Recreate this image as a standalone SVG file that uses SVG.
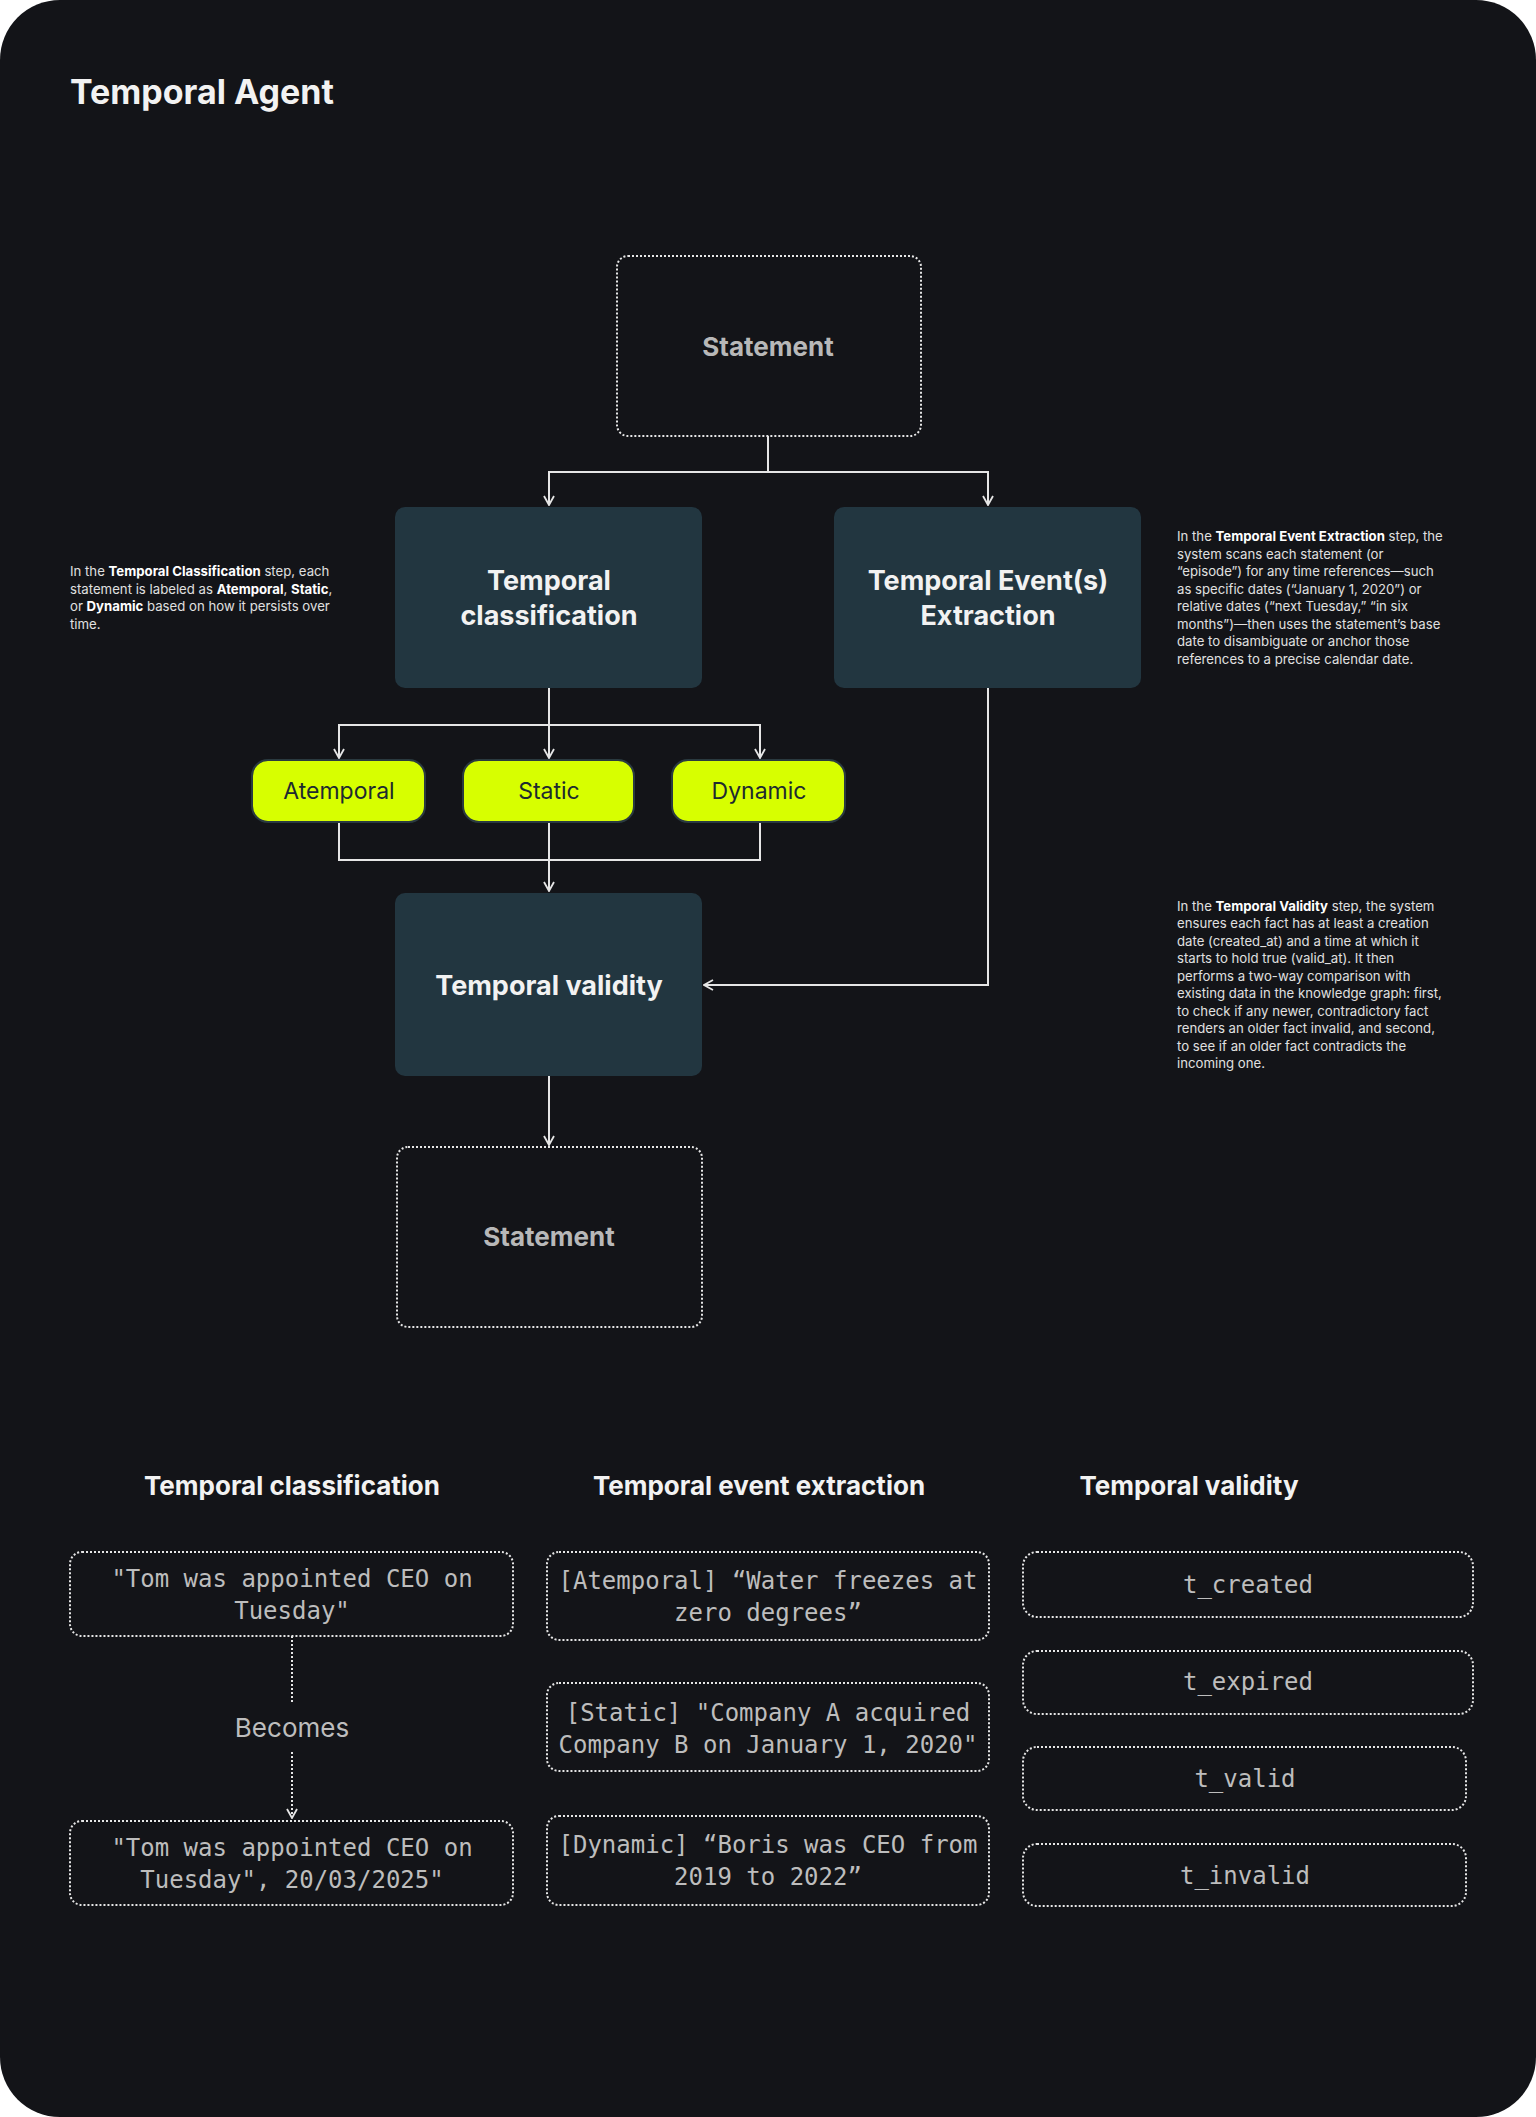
<svg xmlns="http://www.w3.org/2000/svg" width="1536" height="2117" viewBox="0 0 1536 2117">
<defs>
<marker id="ah" viewBox="0 0 12 12" refX="11" refY="6" markerWidth="12" markerHeight="12" markerUnits="userSpaceOnUse" orient="auto"><path d="M2,1 L11,6 L2,11" fill="none" stroke="#e6e6e6" stroke-width="1.8"/></marker>
<style>
.h{font-family:Inter,"Liberation Sans",sans-serif;font-weight:700;fill:#f2f2f2}
.st{font-family:Inter,"Liberation Sans",sans-serif;font-weight:700;fill:#b8b8b8;font-size:26px}
.dk{fill:#223640}
.pill{fill:#d7ff00;stroke:#2a3a40;stroke-width:2}
.pt{font-family:Inter,"Liberation Sans",sans-serif;font-size:23px;fill:#1d2a30}
.dot{fill:none;stroke:#e6e6e6;stroke-width:2;stroke-dasharray:2 2}
.ln{fill:none;stroke:#e6e6e6;stroke-width:2}
.note{font-family:Inter,"Liberation Sans",sans-serif;font-size:13.2px;fill:#e0e0e0}
.note tspan.b{font-weight:700;fill:#fff}
.m{font-family:"DejaVu Sans Mono","Liberation Mono",monospace;font-size:24px;fill:#bdbdbd}
</style>
</defs>
<rect width="1536" height="2117" fill="#ffffff"/>
<rect width="1536" height="2117" rx="60" fill="#131418"/>
<text class="h" x="70" y="104" font-size="34">Temporal Agent</text>

<g id="connectors">
<path class="ln" d="M768,436 V472 H549 V505" marker-end="url(#ah)"/>
<path class="ln" d="M768,472 H988 V505" marker-end="url(#ah)"/>
<path class="ln" d="M549,688 V758" marker-end="url(#ah)"/>
<path class="ln" d="M549,725 H339 V758" marker-end="url(#ah)"/>
<path class="ln" d="M549,725 H760 V758" marker-end="url(#ah)"/>
<path class="ln" d="M339,822 V860 H760 V822"/>
<path class="ln" d="M549,822 V891" marker-end="url(#ah)"/>
<path class="ln" d="M988,688 V985 H704" marker-end="url(#ah)"/>
<path class="ln" d="M549,1076 V1145" marker-end="url(#ah)"/>
<path class="dot" d="M292,1636 V1704"/>
<path class="dot" d="M292,1752 V1818" marker-end="url(#ah)"/>
</g>

<g id="statement-top"><rect class="dot" x="617" y="256" width="304" height="180" rx="11"/><text class="st" x="768" y="356" text-anchor="middle">Statement</text></g>
<g id="classification"><rect class="dk" x="395" y="507" width="307" height="181" rx="10"/><text class="h" font-size="27" text-anchor="middle"><tspan x="549" y="590">Temporal</tspan><tspan x="549" y="625">classification</tspan></text></g>
<g id="extraction"><rect class="dk" x="834" y="507" width="307" height="181" rx="10"/><text class="h" font-size="27" text-anchor="middle"><tspan x="988" y="590">Temporal Event(s)</tspan><tspan x="988" y="625">Extraction</tspan></text></g>
<g id="atemporal"><rect class="pill" x="252" y="760" width="173" height="62" rx="16"/><text class="pt" x="339" y="799" text-anchor="middle">Atemporal</text></g>
<g id="static"><rect class="pill" x="463" y="760" width="171" height="62" rx="16"/><text class="pt" x="549" y="799" text-anchor="middle">Static</text></g>
<g id="dynamic"><rect class="pill" x="672" y="760" width="173" height="62" rx="16"/><text class="pt" x="759" y="799" text-anchor="middle">Dynamic</text></g>
<g id="validity"><rect class="dk" x="395" y="893" width="307" height="183" rx="10"/><text class="h" font-size="27" x="549" y="995" text-anchor="middle">Temporal validity</text></g>
<g id="statement-bottom"><rect class="dot" x="397" y="1147" width="305" height="180" rx="11"/><text class="st" x="549" y="1246" text-anchor="middle">Statement</text></g>

<g id="note-classification"><text class="note">
<tspan x="70" y="576">In the <tspan class="b">Temporal Classification</tspan> step, each</tspan>
<tspan x="70" y="594">statement is labeled as <tspan class="b">Atemporal</tspan>, <tspan class="b">Static</tspan>,</tspan>
<tspan x="70" y="611">or <tspan class="b">Dynamic</tspan> based on how it persists over</tspan>
<tspan x="70" y="629">time.</tspan></text></g>
<g id="note-extraction"><text class="note">
<tspan x="1177" y="541">In the <tspan class="b">Temporal Event Extraction</tspan> step, the</tspan>
<tspan x="1177" y="559">system scans each statement (or</tspan>
<tspan x="1177" y="576">“episode”) for any time references—such</tspan>
<tspan x="1177" y="594">as specific dates (“January 1, 2020”) or</tspan>
<tspan x="1177" y="611">relative dates (“next Tuesday,” “in six</tspan>
<tspan x="1177" y="629">months”)—then uses the statement’s base</tspan>
<tspan x="1177" y="646">date to disambiguate or anchor those</tspan>
<tspan x="1177" y="664">references to a precise calendar date.</tspan></text></g>
<g id="note-validity"><text class="note">
<tspan x="1177" y="911">In the <tspan class="b">Temporal Validity</tspan> step, the system</tspan>
<tspan x="1177" y="928">ensures each fact has at least a creation</tspan>
<tspan x="1177" y="946">date (created_at) and a time at which it</tspan>
<tspan x="1177" y="963">starts to hold true (valid_at). It then</tspan>
<tspan x="1177" y="981">performs a two-way comparison with</tspan>
<tspan x="1177" y="998">existing data in the knowledge graph: first,</tspan>
<tspan x="1177" y="1016">to check if any newer, contradictory fact</tspan>
<tspan x="1177" y="1033">renders an older fact invalid, and second,</tspan>
<tspan x="1177" y="1051">to see if an older fact contradicts the</tspan>
<tspan x="1177" y="1068">incoming one.</tspan></text></g>

<g id="headers">
<text class="h" font-size="26" x="292" y="1495" text-anchor="middle">Temporal classification</text>
<text class="h" font-size="26" x="759" y="1495" text-anchor="middle">Temporal event extraction</text>
<text class="h" font-size="26" x="1189" y="1495" text-anchor="middle">Temporal validity</text>
</g>

<g id="ex-c1"><rect class="dot" x="70" y="1552" width="443" height="84" rx="12"/><text class="m" text-anchor="middle"><tspan x="292" y="1587">"Tom was appointed CEO on</tspan><tspan x="292" y="1619">Tuesday"</tspan></text></g>
<g id="becomes"><text x="292" y="1737" text-anchor="middle" font-family="Inter,'Liberation Sans',sans-serif" font-size="26" fill="#bdbdbd">Becomes</text></g>
<g id="ex-c2"><rect class="dot" x="70" y="1821" width="443" height="84" rx="12"/><text class="m" text-anchor="middle"><tspan x="292" y="1856">"Tom was appointed CEO on</tspan><tspan x="292" y="1888">Tuesday", 20/03/2025"</tspan></text></g>

<g id="ex-e1"><rect class="dot" x="547" y="1552" width="442" height="88" rx="12"/><text class="m" text-anchor="middle"><tspan x="768" y="1589">[Atemporal] “Water freezes at</tspan><tspan x="768" y="1621">zero degrees”</tspan></text></g>
<g id="ex-e2"><rect class="dot" x="547" y="1683" width="442" height="88" rx="12"/><text class="m" text-anchor="middle"><tspan x="768" y="1721">[Static] "Company A acquired</tspan><tspan x="768" y="1753">Company B on January 1, 2020"</tspan></text></g>
<g id="ex-e3"><rect class="dot" x="547" y="1816" width="442" height="89" rx="12"/><text class="m" text-anchor="middle"><tspan x="768" y="1853">[Dynamic] “Boris was CEO from</tspan><tspan x="768" y="1885">2019 to 2022”</tspan></text></g>

<g id="v1"><rect class="dot" x="1023" y="1552" width="450" height="65" rx="14"/><text class="m" x="1248" y="1593" text-anchor="middle">t_created</text></g>
<g id="v2"><rect class="dot" x="1023" y="1651" width="450" height="63" rx="14"/><text class="m" x="1248" y="1690" text-anchor="middle">t_expired</text></g>
<g id="v3"><rect class="dot" x="1023" y="1747" width="443" height="63" rx="14"/><text class="m" x="1245" y="1787" text-anchor="middle">t_valid</text></g>
<g id="v4"><rect class="dot" x="1023" y="1844" width="443" height="62" rx="14"/><text class="m" x="1245" y="1884" text-anchor="middle">t_invalid</text></g>
</svg>
